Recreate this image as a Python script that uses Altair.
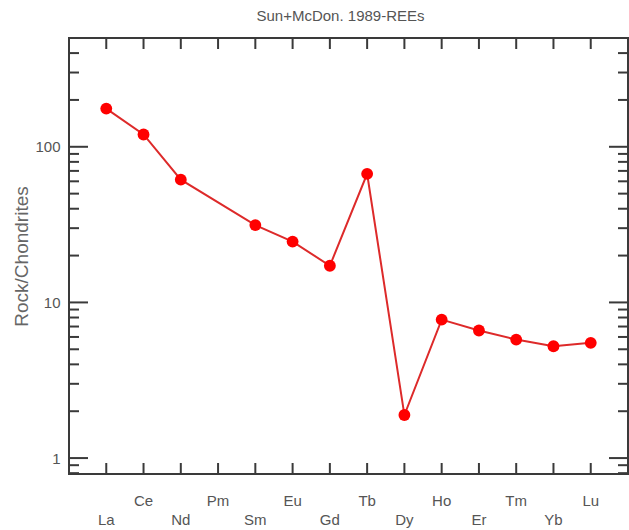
import altair as alt
import pandas as pd

title_text = ["Sun+McDon. 1989-REEs"]
elements = ["La", "Ce", "Nd", "Pm", "Sm", "Eu", "Gd", "Tb", "Dy", "Ho", "Er", "Tm", "Yb", "Lu"]
values = [176, 120, 61.5, None, 31.4, 24.6, 17.2, 67, 1.89, 7.75, 6.6, 5.77, 5.23, 5.5]
positions = list(range(1, 15))
major_ticks = [1, 10, 100]
minor_ticks = [0.8, 0.9, 2, 3, 4, 5, 6, 7, 8, 9, 20, 30, 40, 50, 60, 70, 80, 90, 200, 300, 400]
y_domain = [0.79, 500]
x_domain = [0, 15]

W, H = 559, 436
FONT = "Liberation Sans, Arial, sans-serif"
TXT = "#555555"
INK = "#3a3a3a"

df = pd.DataFrame({"element": elements, "pos": positions, "value": values})
pts = df.dropna()
upper = df[df["pos"] % 2 == 0]
lower = df[df["pos"] % 2 == 1]
major_df = pd.DataFrame({"v": major_ticks})
minor_df = pd.DataFrame({"v": minor_ticks})
pos_df = pd.DataFrame({"pos": positions})
title_df = pd.DataFrame({"t": title_text})

xscale = alt.Scale(domain=x_domain, nice=False, zero=False)
yscale = alt.Scale(type="log", domain=y_domain, nice=False)

X = alt.X("pos:Q", scale=xscale, axis=None)
YV = alt.Y("v:Q", scale=yscale, axis=None)

y_axis = alt.Axis(
    values=major_ticks,
    format="~g",
    ticks=False,
    domain=False,
    grid=False,
    labelPadding=9,
    labelFontSize=15,
    labelColor=TXT,
    labelFont=FONT,
    titleFont=FONT,
    titleFontSize=19,
    titleFontWeight="normal",
    titleColor="#666666",
    titlePadding=3,
)

rule_style = dict(color=INK, strokeWidth=2)

left_major = alt.Chart(major_df).mark_rule(**rule_style).encode(
    y=alt.Y("v:Q", scale=yscale, title="Rock/Chondrites", axis=y_axis),
    x=alt.value(0), x2=alt.value(19))
left_minor = alt.Chart(minor_df).mark_rule(**rule_style).encode(
    y=YV, x=alt.value(0), x2=alt.value(10))
right_major = alt.Chart(major_df).mark_rule(**rule_style).encode(
    y=YV, x=alt.value(W), x2=alt.value(W - 19))
right_minor = alt.Chart(minor_df).mark_rule(**rule_style).encode(
    y=YV, x=alt.value(W), x2=alt.value(W - 10))
top_ticks = alt.Chart(pos_df).mark_rule(**rule_style).encode(
    x=X, y=alt.value(0), y2=alt.value(11))
bottom_ticks = alt.Chart(pos_df).mark_rule(**rule_style).encode(
    x=X, y=alt.value(H), y2=alt.value(H - 11))

line = alt.Chart(pts).mark_line(color="#dd2a2a", strokeWidth=2).encode(
    x=X, y=alt.Y("value:Q", scale=yscale, axis=None))
points = alt.Chart(pts).mark_circle(color="#ff0000", size=140, opacity=1).encode(
    x=X, y=alt.Y("value:Q", scale=yscale, axis=None))

text_style = dict(font=FONT, fontSize=15, color=TXT, align="center", baseline="alphabetic")
upper_labels = alt.Chart(upper).mark_text(**text_style).encode(
    x=X, y=alt.value(H + 32), text="element:N")
lower_labels = alt.Chart(lower).mark_text(**text_style).encode(
    x=X, y=alt.value(H + 51), text="element:N")
title_mark = alt.Chart(title_df).mark_text(**text_style).encode(
    x=alt.value(W / 2 - 8), y=alt.value(-17), text="t:N")

chart = alt.layer(
    left_major, left_minor, right_major, right_minor, top_ticks, bottom_ticks,
    line, points, upper_labels, lower_labels, title_mark,
).resolve_axis(
    y="independent", x="independent"
).properties(
    width=W,
    height=H,
    background="white",
    autosize=alt.AutoSizeParams(type="none"),
    padding={"left": 69, "top": 38, "right": 1, "bottom": 56},
).configure_view(
    stroke=INK, strokeWidth=2
)

chart.save("out.html", embed_options={"renderer": "svg", "actions": False})
